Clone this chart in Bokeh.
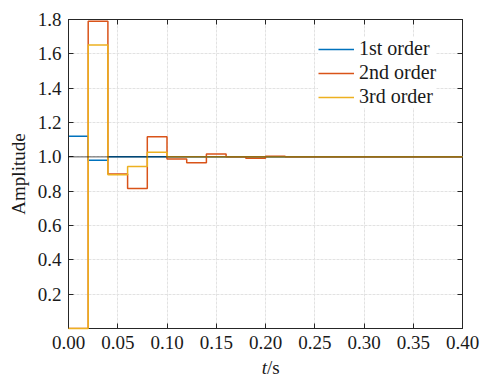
from bokeh.plotting import figure
from bokeh.models import (FixedTicker, PrintfTickFormatter, LinearAxis, Range1d,
                          Legend, LegendItem)
from bokeh.layouts import column
from bokeh.core.properties import value
from bokeh.embed import file_html
from bokeh.resources import INLINE

# sample times (s)
t = [0.00, 0.02, 0.04, 0.06, 0.08, 0.10, 0.12, 0.14, 0.16, 0.18, 0.20,
     0.22, 0.24, 0.26, 0.28, 0.30, 0.32, 0.34, 0.36, 0.38, 0.40]
first_order = [1.12, 0.98, 1.0, 1.0, 1.0, 1.0, 1.0, 1.0, 1.0, 1.0, 1.0,
               1.0, 1.0, 1.0, 1.0, 1.0, 1.0, 1.0, 1.0, 1.0, 1.0]
second_order = [0.0, 1.79, 0.90, 0.815, 1.117, 0.988, 0.966, 1.016, 1.0, 0.992, 1.003,
                1.0, 1.0, 1.0, 1.0, 1.0, 1.0, 1.0, 1.0, 1.0, 1.0]
third_order = [0.0, 1.652, 0.895, 0.943, 1.027, 1.0, 1.0, 1.0, 1.0, 1.0, 1.0,
               1.0, 1.0, 1.0, 1.0, 1.0, 1.0, 1.0, 1.0, 1.0, 1.0]
reference = 1.0
x_ticks = [0.0, 0.05, 0.10, 0.15, 0.20, 0.25, 0.30, 0.35, 0.40]
y_ticks = [0.2, 0.4, 0.6, 0.8, 1.0, 1.2, 1.4, 1.6, 1.8]
series_labels = ["1st order", "2nd order", "3rd order"]
x_label_var, x_label_unit = "t", "/s"
y_label = "Amplitude"

FONT = "Liberation Serif"
AX = "#262626"
TXT = "#1a1a1a"

p = figure(width=483, height=356, output_backend="svg", toolbar_location=None,
           x_range=Range1d(0, 0.40), y_range=Range1d(0, 1.8),
           min_border_left=68, min_border_right=21, min_border_top=19,
           min_border_bottom=28)
p.outline_line_color = AX
p.outline_line_width = 1
p.background_fill_color = "white"

def style_axis(ax, ticks, fmt, show_labels=True):
    ax.ticker = FixedTicker(ticks=ticks)
    ax.formatter = PrintfTickFormatter(format=fmt)
    ax.major_tick_in = 5
    ax.major_tick_out = 0
    ax.minor_tick_line_color = None
    ax.axis_line_color = AX
    ax.major_tick_line_color = AX
    if show_labels:
        ax.major_label_text_font = FONT
        ax.major_label_text_font_size = "19px"
        ax.major_label_text_color = TXT
    else:
        ax.major_label_text_alpha = 0
        ax.major_label_text_font_size = "1px"

style_axis(p.xaxis[0], x_ticks, "%.2f")
p.xaxis[0].major_label_standoff = 7
style_axis(p.yaxis[0], y_ticks, "%.1f")
p.yaxis[0].major_label_standoff = 7
p.yaxis[0].axis_label = y_label
p.yaxis[0].axis_label_text_font = FONT
p.yaxis[0].axis_label_text_font_size = "19px"
p.yaxis[0].axis_label_text_font_style = "normal"
p.yaxis[0].axis_label_text_color = TXT
p.yaxis[0].axis_label_standoff = 6

top_ax = LinearAxis()
style_axis(top_ax, x_ticks, "%.2f", show_labels=False)
p.add_layout(top_ax, "above")
right_ax = LinearAxis()
style_axis(right_ax, y_ticks, "%.1f", show_labels=False)
p.add_layout(right_ax, "right")

p.xgrid.ticker = FixedTicker(ticks=x_ticks)
p.ygrid.ticker = FixedTicker(ticks=y_ticks)
p.grid.grid_line_color = "#e2e2e2"
p.grid.grid_line_dash = "3 1"
p.grid.grid_line_width = 1

r1 = p.step(t, first_order, mode="after", line_color="#0072BD", line_width=1.5)
r2 = p.step(t, second_order, mode="after", line_color="#D95319", line_width=1.5)
r3 = p.step(t, third_order, mode="after", line_color="#EDB120", line_width=1.5,
            level="overlay")
p.line([t[0], t[-1]], [reference, reference], line_color="black",
       line_width=1.2, line_dash="1 1", level="overlay")

legend = Legend(items=[LegendItem(label=series_labels[0], renderers=[r1]),
                       LegendItem(label=series_labels[1], renderers=[r2]),
                       LegendItem(label=series_labels[2], renderers=[r3])])
legend.border_line_color = None
legend.background_fill_color = "white"
legend.background_fill_alpha = 1
legend.label_text_font = FONT
legend.label_text_font_size = "20px"
legend.label_text_color = TXT
legend.glyph_width = 36
legend.glyph_height = 22
legend.label_height = 22
legend.spacing = 1
legend.label_standoff = 5
legend.padding = 4
legend.margin = 0
legend.location = (250, 220)
p.add_layout(legend)

# x axis title row (italic variable + upright unit)
p2 = figure(width=483, height=21, output_backend="svg", toolbar_location=None,
            x_range=p.x_range, y_range=Range1d(0, 1),
            x_axis_type=None, y_axis_type=None,
            min_border_left=68, min_border_right=21, min_border_top=0,
            min_border_bottom=0)
p2.outline_line_color = None
p2.grid.visible = False
p2.text(x=[0.2015], y=[0.5], text=[x_label_var], text_font=value(FONT),
        text_font_size="19px", text_font_style="italic", text_align="right",
        text_baseline="middle", text_color=TXT)
p2.text(x=[0.2015], y=[0.5], text=[x_label_unit], text_font=value(FONT),
        text_font_size="19px", text_align="left", text_baseline="middle",
        text_color=TXT)

layout = column(p, p2, spacing=0)
open("out.html", "w").write(file_html(layout, INLINE))
